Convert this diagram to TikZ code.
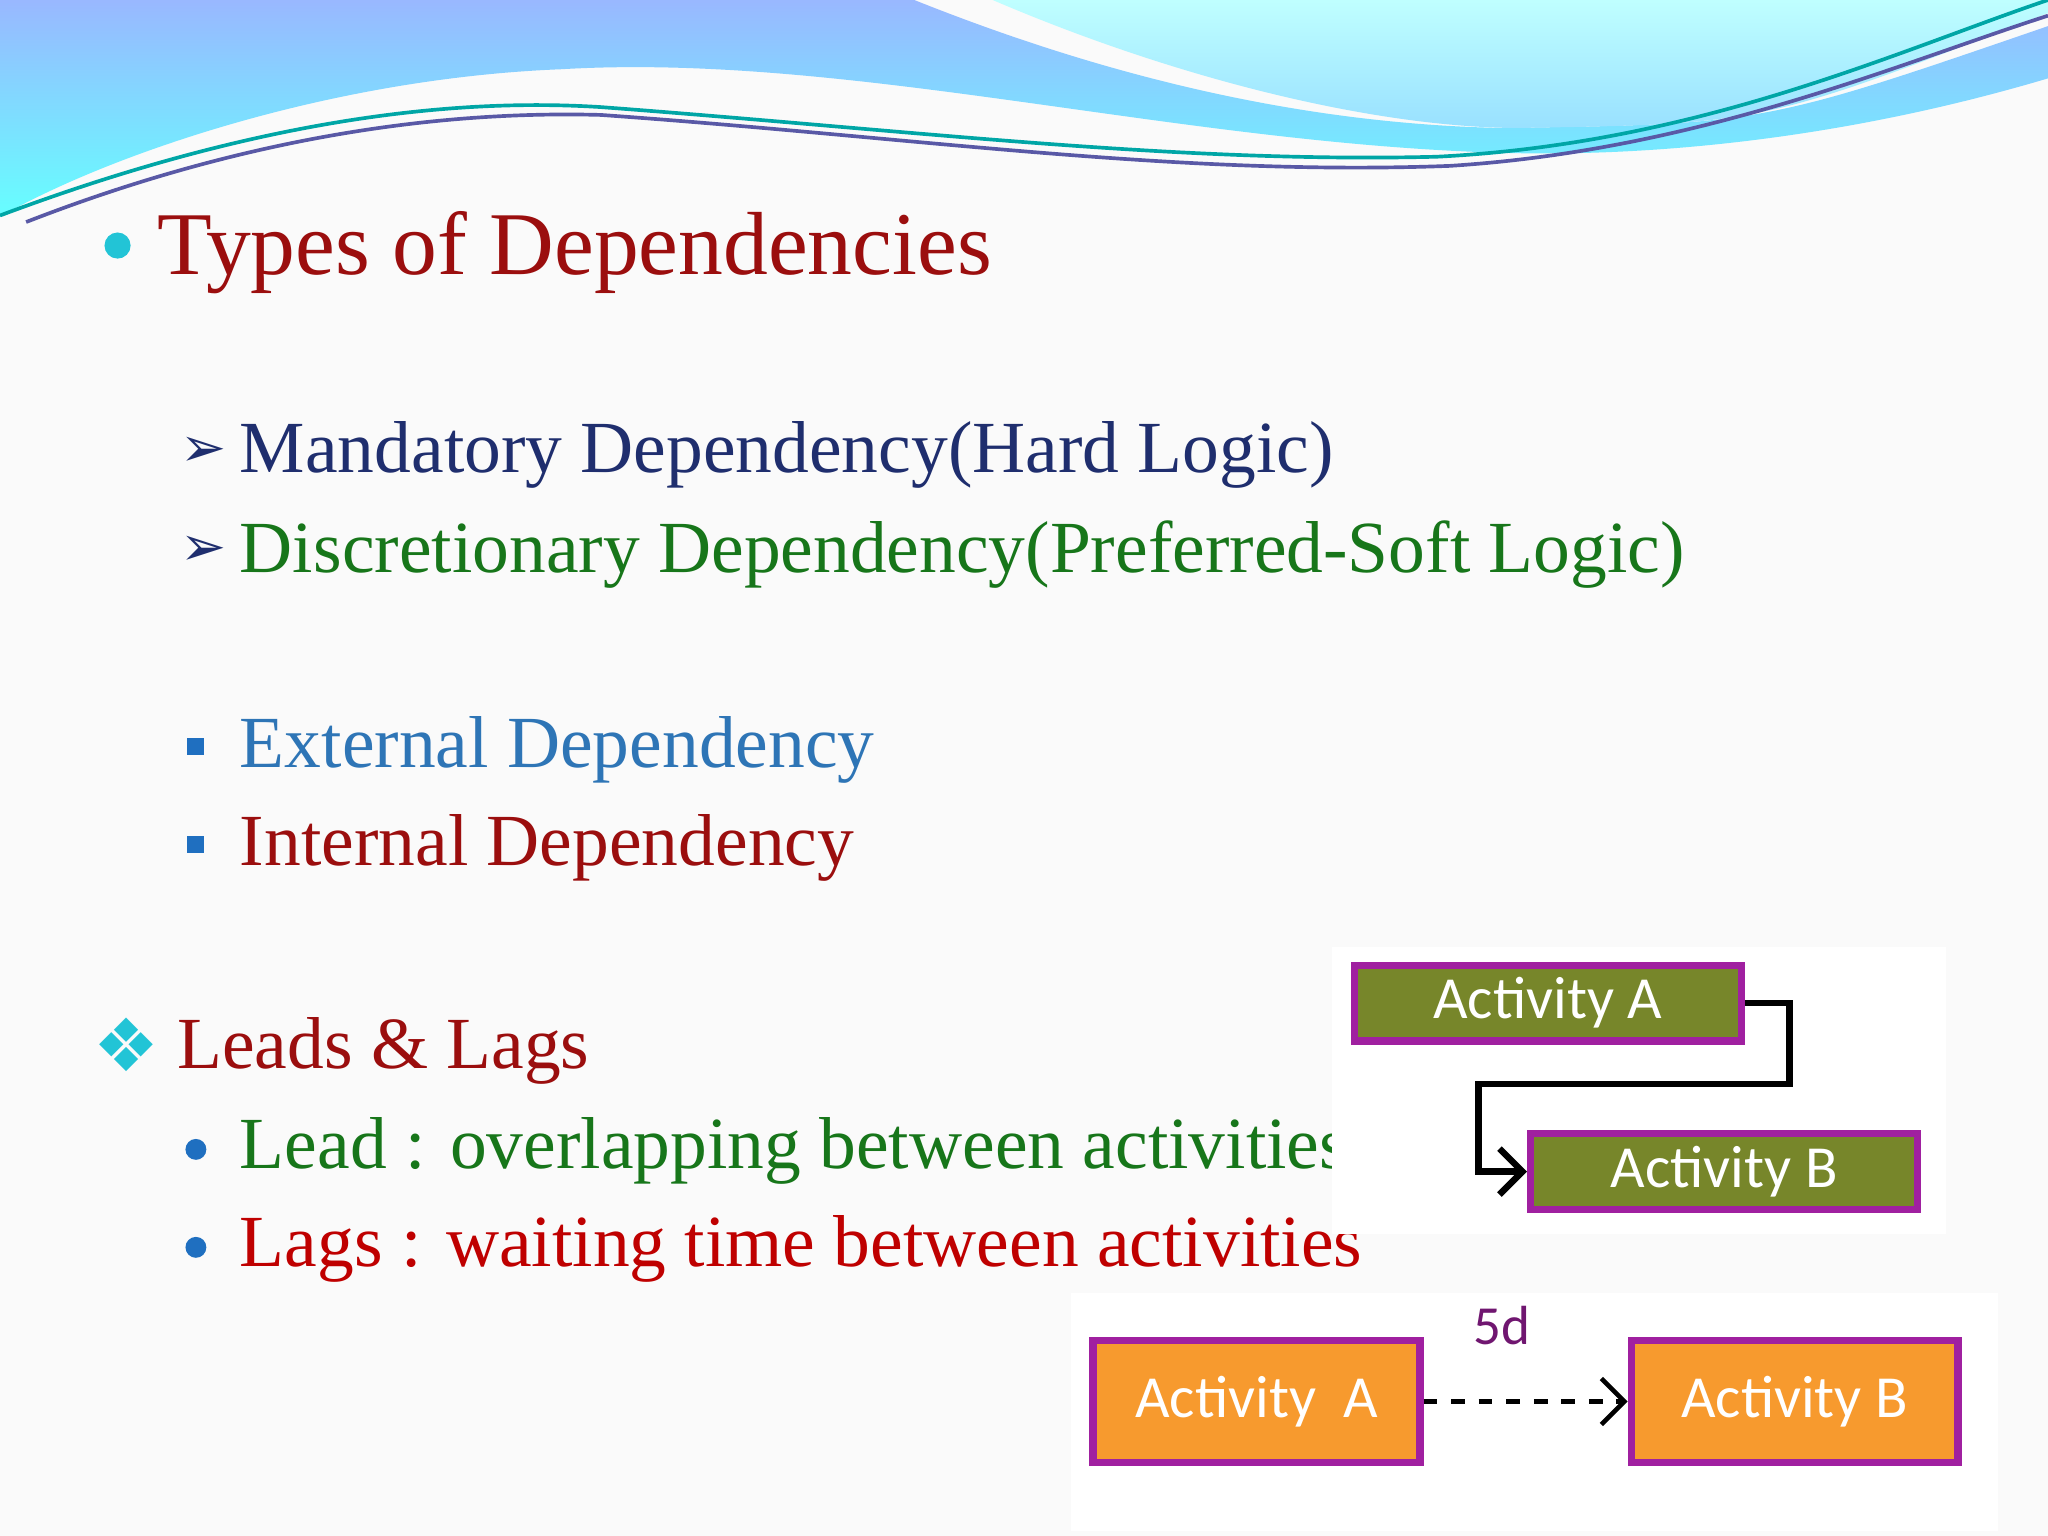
\documentclass[tikz,border=0pt]{standalone}
\usetikzlibrary{arrows.meta}
\usepackage{fontspec}
\setmainfont{Liberation Serif}
\newfontfamily\boxfont{Carlito}
\newfontfamily\symfont{DejaVu Sans}
\definecolor{dred}{HTML}{9B0E0E}
\definecolor{navy}{HTML}{1F2E6E}
\definecolor{dgreen}{HTML}{17761A}
\definecolor{eblue}{HTML}{2E75B6}
\definecolor{bulblue}{HTML}{1F6FC0}
\definecolor{cyanb}{HTML}{22C4D6}
\definecolor{olive}{HTML}{77862A}
\definecolor{orng}{HTML}{F79A2E}
\definecolor{purp}{HTML}{A020A0}
\begin{document}
\begin{tikzpicture}[x=0.01cm,y=-0.01cm,
  t/.style={anchor=base west,inner sep=0,font=\fontsize{16}{18}\selectfont},
  abox/.style={draw=purp,line width=1.6pt,minimum width=2.96cm,minimum height=0.58cm,text=white,font=\boxfont\fontsize{13}{15}\selectfont,inner sep=0},
  obox/.style={draw=purp,line width=1.6pt,minimum width=2.5cm,minimum height=0.93cm,text=white,fill=orng,font=\boxfont\fontsize{13}{15}\selectfont,inner sep=0}]
\useasboundingbox (0,0) rectangle (1568,1176);
\fill[white!96!gray] (0,0) rectangle (1568,1176);
% top waves
\shade[top color=cyan!30!blue!40, bottom color=cyan!60] (0,0) -- (700,0) .. controls (850,60) and (1000,95) .. (1150,98) .. controls (1350,95) .. (1568,20) -- (1568,60) .. controls (1400,110) and (1250,120) .. (1150,117) .. controls (900,110) and (650,40) .. (430,53) .. controls (250,60) and (80,120) .. (0,166) -- cycle;
\shade[top color=cyan!25, bottom color=blue!30!cyan!40] (760,0) .. controls (900,60) and (1050,97) .. (1160,98) .. controls (1350,95) .. (1568,10) -- (1568,0) -- cycle;
\draw[teal!70!cyan,line width=0.8pt] (0,165) .. controls (200,90) and (350,75) .. (460,82) .. controls (700,100) and (900,125) .. (1100,120) .. controls (1300,110) and (1450,40) .. (1568,0);
\draw[gray!70!blue,line width=0.8pt] (20,170) .. controls (200,100) and (350,85) .. (460,88) .. controls (700,105) and (900,135) .. (1110,127) .. controls (1300,115) and (1450,50) .. (1568,12);
% texts
\fill[cyanb] (90,188) circle (10);
\node[t,text=dred,font=\fontsize{19.5}{22}\selectfont] (title) at (120,210) {Types of Dependencies};
\node[text=navy,font=\symfont\fontsize{12}{14}\selectfont,inner sep=0] (m1) at (156,346) {➢};
\node[t,text=navy] (mand) at (183,362) {Mandatory Dependency(Hard Logic)};
\node[text=navy,font=\symfont\fontsize{12}{14}\selectfont,inner sep=0] (m2) at (156,422) {➢};
\node[t,text=dgreen] (disc) at (183,438) {Discretionary Dependency(Preferred-Soft Logic)};
\fill[bulblue] (143,565) rectangle (156,578);
\node[t,text=eblue] (ext) at (183,588) {External Dependency};
\fill[bulblue] (143,640) rectangle (156,653);
\node[t,text=dred] (int) at (183,663) {Internal Dependency};
\node[text=cyanb,font=\symfont\fontsize{16}{18}\selectfont,inner sep=0] (dia) at (97,800) {❖};
\node[t,text=dred] (ll) at (135,818) {Leads \& Lags};
\fill[bulblue] (150,880) circle (8);
\node[t,text=dgreen] (lead) at (183,895) {Lead : overlapping between activities};
\fill[bulblue] (150,955) circle (8);
\node[t,text=red!75!black] (lags) at (183,970) {Lags : waiting time between activities};
% diagram 1
\fill[white] (1020,725) rectangle (1490,945);
\node[abox,fill=olive] (a1) at (1185,768) {Activity A};
\node[abox,fill=olive] (b1) at (1320,897) {Activity B};
\coordinate (c1) at (1370,830);
\draw[black,line width=1.4pt,-{Straight Barb[length=5pt]}] (a1.east) -| (c1) -| (1132,860) |- (b1.west);
% diagram 2
\fill[white] (820,990) rectangle (1530,1172);
\node[obox] (a2) at (962,1073) {Activity\ \ A};
\node[obox] (b2) at (1374,1073) {Activity B};
\draw[black,line width=1pt,dashed,-{Straight Barb[length=5pt]}] (a2.east) -- (b2.west);
\node[text=purp!70!black,font=\boxfont\fontsize{12}{14}\selectfont] (lbl) at (1150,1015) {5d};
\end{tikzpicture}
\end{document}
